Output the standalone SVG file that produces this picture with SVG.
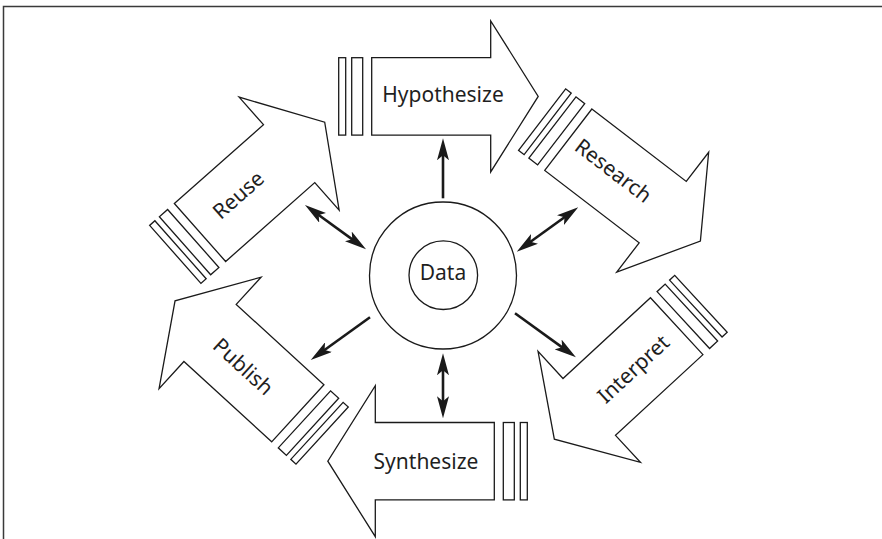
<svg xmlns="http://www.w3.org/2000/svg" xmlns:xlink="http://www.w3.org/1999/xlink" width="882" height="539" viewBox="0 0 882 539">
  <style>
    .outline { fill: #ffffff; stroke: #1a1a1a; stroke-width: 1.3; stroke-linejoin: miter; }
    .label { font-family: "Noto Sans", "Open Sans", sans-serif; font-size: 21px; fill: #1f1f1f; text-anchor: middle; }
    .conn { stroke: #1a1a1a; stroke-width: 2.6; fill: none; }
    .frame { fill: none; stroke: #3a3a3a; stroke-width: 1.5; }
  </style>
  <defs>
    <g id="bigArrow">
      <polygon class="outline" points="0,-38.7 119,-38.7 119,-75.5 166.5,0 119,75.5 119,38.7 0,38.7"/>
      <rect class="outline" x="-20" y="-38.7" width="11" height="77.4"/>
      <rect class="outline" x="-33" y="-38.7" width="7" height="77.4"/>
    </g>
    <marker id="head" viewBox="0 0 22 12" refX="8" refY="6" markerWidth="22" markerHeight="12" markerUnits="userSpaceOnUse" orient="auto-start-reverse">
      <path d="M22,6 L0,0 L5,6 L0,12 Z" fill="#1a1a1a"/>
    </marker>
  </defs>

  <path class="frame" d="M3.5,539 V6.5 H882"/>

  <g id="hypothesize">
    <use xlink:href="#bigArrow" href="#bigArrow" transform="translate(371.7,96.4)"/>
    <text class="label" x="443" y="94.2" dy="0.35em">Hypothesize</text>
  </g>

  <g id="research">
    <use xlink:href="#bigArrow" href="#bigArrow" transform="translate(568.3,139.7) rotate(37.5)"/>
    <text class="label" x="613.3" y="170.7" dy="0.35em" transform="rotate(37.5 613.3 170.7)">Research</text>
  </g>

  <g id="interpret">
    <use xlink:href="#bigArrow" href="#bigArrow" transform="translate(676.7,326.2) rotate(137.3)"/>
    <text class="label" x="633.3" y="369" dy="0.35em" transform="rotate(-42.7 633.3 369)">Interpret</text>
  </g>

  <g id="synthesize">
    <use xlink:href="#bigArrow" href="#bigArrow" transform="translate(494.3,461.2) rotate(180)"/>
    <text class="label" x="426" y="461.7" dy="0.35em">Synthesize</text>
  </g>

  <g id="publish">
    <use xlink:href="#bigArrow" href="#bigArrow" transform="translate(297.8,413.3) rotate(-137.5)"/>
    <text class="label" x="243.3" y="366.7" dy="0.35em" transform="rotate(42.5 243.3 366.7)">Publish</text>
  </g>

  <g id="reuse">
    <use xlink:href="#bigArrow" href="#bigArrow" transform="translate(200,232.5) rotate(-41.5)"/>
    <text class="label" x="238.3" y="195" dy="0.35em" transform="rotate(-41.5 238.3 195)">Reuse</text>
  </g>

  <g id="data">
    <circle class="outline" cx="443" cy="275.5" r="73.5"/>
    <circle class="outline" cx="443.3" cy="275.2" r="34.3"/>
    <text class="label" x="443" y="273" dy="0.35em">Data</text>
  </g>

  <g id="connectors">
    <line class="conn" x1="443" y1="198.3" x2="443" y2="152.3" marker-end="url(#head)"/>
    <line class="conn" x1="316.3" y1="213.2" x2="354.7" y2="241.1" marker-start="url(#head)" marker-end="url(#head)"/>
    <line class="conn" x1="528.1" y1="243.5" x2="566.9" y2="215.5" marker-start="url(#head)" marker-end="url(#head)"/>
    <line class="conn" x1="370" y1="317.3" x2="322.1" y2="351.8" marker-end="url(#head)"/>
    <line class="conn" x1="515" y1="313.3" x2="564.6" y2="349.1" marker-end="url(#head)"/>
    <line class="conn" x1="443" y1="367.3" x2="443" y2="404.3" marker-start="url(#head)" marker-end="url(#head)"/>
  </g>
</svg>
